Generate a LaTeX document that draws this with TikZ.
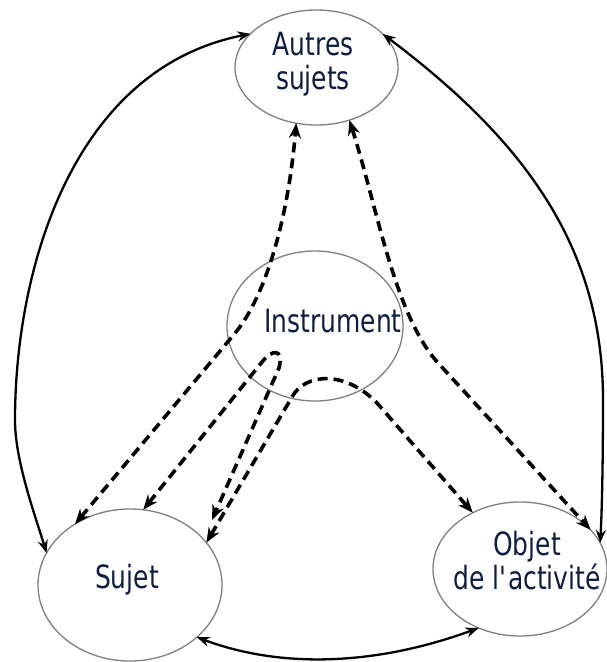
\documentclass[tikz,border=0pt]{standalone}
\usepackage{fontspec}
\newfontfamily\labfont{DejaVu Sans}[FakeStretch=0.78]
\usetikzlibrary{arrows.meta,shapes.geometric}
\definecolor{navy}{HTML}{0E1D40}
\definecolor{rim}{HTML}{808080}
\begin{document}
\begin{tikzpicture}[x=1pt,y=-1pt,
  ell/.style={draw=rim, line width=1.3pt, ellipse, inner sep=0pt, outer sep=0pt},
  lab/.style={text=navy, font=\labfont\fontsize{32}{34}\selectfont, inner sep=0pt, align=center},
  solidarrow/.style={line width=2.3pt, {Stealth[length=13pt,width=10pt]}-{Stealth[length=13pt,width=10pt]}},
  dasharrow/.style={line width=3.6pt, dash pattern=on 10pt off 6pt, {Stealth[length=15pt,width=12pt]}-{Stealth[length=15pt,width=12pt]}},
]
\fill[white] (0,0) rectangle (606,662);
\useasboundingbox (0,0) rectangle (606,662);

% ellipses
\node[ell, minimum width=163pt, minimum height=115pt] (autres) at (316.5,67.5) {};
\node[ell, minimum width=176pt, minimum height=150pt] (instr) at (315,326) {};
\node[ell, minimum width=184pt, minimum height=152pt] (sujet) at (130,585) {};
\node[ell, minimum width=174pt, minimum height=134pt] (objet) at (520,569) {};

% solid connectors
\draw[solidarrow] (sujet.159) .. controls (34,512) and (15,460) .. (15,420)
   .. controls (15,270) and (72,69) .. (autres.153);
\draw[solidarrow] (autres.27) .. controls (528,143) and (603,250) .. (603,400)
   .. controls (603,460) and (602,510) .. (objet.18);
\draw[solidarrow] (sujet.322) .. controls (285,670) and (380,664) .. (objet.235);

% dashed connectors
\coordinate (cend) at (212,520);
\draw[dasharrow] (sujet.132) -- (236,332) .. controls (262,300) and (287,230) .. (autres.250);
\draw[dasharrow] (autres.302) .. controls (378,210) and (395,318) .. (440,365) -- (objet.29);
\draw[dasharrow] (sujet.80) -- (262,362) .. controls (272,349) and (284,348) .. (279,368) -- (cend);
\draw[dasharrow] (sujet.29) -- (292,397) .. controls (305,373) and (345,370) .. (377,403) -- (objet.130);

% labels
\node[lab] (autres-t) at (313,64) {Autres\\sujets};
\node[lab, anchor=base] (instr-t) at (333,332) {Instrument};
\node[lab, anchor=base] (sujet-t) at (127,588) {Sujet};
\node[lab] (objet-t) at (527,561) {Objet\\de l\textquotesingle activité};
\end{tikzpicture}
\end{document}
